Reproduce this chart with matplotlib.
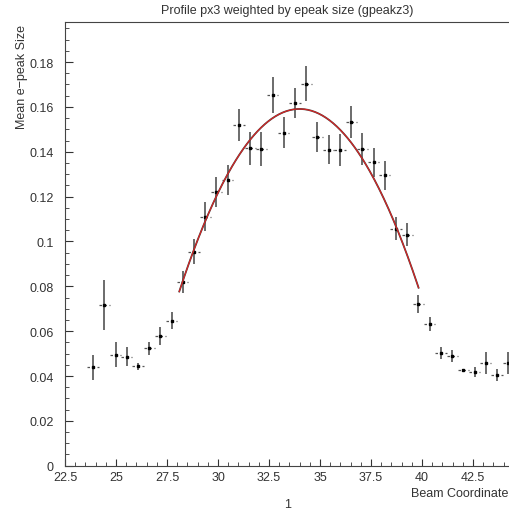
import numpy as np
import matplotlib.pyplot as plt
from matplotlib.ticker import MultipleLocator, FuncFormatter

# profile bins (40 bins from 22.5 to 44.5, first two empty)
bin_width = 0.55
x_centers = [23.875, 24.425, 24.975, 25.525, 26.075, 26.625, 27.175, 27.725,
             28.275, 28.825, 29.375, 29.925, 30.475, 31.025, 31.575, 32.125,
             32.675, 33.225, 33.775, 34.325, 34.875, 35.425, 35.975, 36.525,
             37.075, 37.625, 38.175, 38.725, 39.275, 39.825, 40.375, 40.925,
             41.475, 42.025, 42.575, 43.125, 43.675, 44.225]
mean_size = [0.0438, 0.0716, 0.0495, 0.0486, 0.0443, 0.0523, 0.0577, 0.0647,
             0.0818, 0.0955, 0.1111, 0.1222, 0.1274, 0.1519, 0.1415, 0.1412,
             0.1655, 0.1485, 0.1619, 0.1704, 0.1465, 0.1410, 0.1407, 0.1534,
             0.1411, 0.1353, 0.1296, 0.1057, 0.1030, 0.0720, 0.0632, 0.0502,
             0.0489, 0.0425, 0.0419, 0.0458, 0.0404, 0.0458]
size_err = [0.0055, 0.0110, 0.0056, 0.0042, 0.0015, 0.0030, 0.0040, 0.0038,
            0.0050, 0.0054, 0.0063, 0.0067, 0.0067, 0.0072, 0.0072, 0.0075,
            0.0080, 0.0070, 0.0067, 0.0078, 0.0067, 0.0065, 0.0072, 0.0071,
            0.0072, 0.0065, 0.0065, 0.0052, 0.0052, 0.0039, 0.0030, 0.0027,
            0.0028, 0.0006, 0.0022, 0.0047, 0.0028, 0.0048]
fit_lo, fit_hi = 28.1, 39.83

x = np.array(x_centers)
y = np.array(mean_size)
e = np.array(size_err)

# pol2 fit like the original
sel = (x > fit_lo) & (x < fit_hi)
coef = np.polyfit(x[sel], y[sel], 2, w=1.0 / e[sel])
xf = np.linspace(fit_lo, fit_hi, 200)
yf = np.polyval(coef, xf)

plt.rcParams['font.family'] = ['Liberation Sans', 'DejaVu Sans']
fig = plt.figure(figsize=(5.1, 5.1), dpi=100)
ax = fig.add_axes([0.1275, 0.0849, 0.88, 0.8706])

ax.errorbar(x, y, yerr=e, fmt='none', ecolor='#444444', elinewidth=1.1, capsize=0)
ax.hlines(y, x - bin_width / 2, x + bin_width / 2, colors='#555555',
          linewidth=0.9, linestyles=(0, (2, 2)))
ax.plot(x, y, 's', color='black', markersize=1.8)
ax.plot(xf, yf, color='#444444', linewidth=1.3)
ax.plot(xf, yf, color='#dd2222', linewidth=0.8)

ax.set_xlim(22.5, 44.5)
ax.set_ylim(0, 0.198)
ax.xaxis.set_major_locator(MultipleLocator(2.5))
ax.xaxis.set_minor_locator(MultipleLocator(0.5))
ax.yaxis.set_major_locator(MultipleLocator(0.02))
ax.yaxis.set_minor_locator(MultipleLocator(0.005))
fmt = FuncFormatter(lambda v, p: '%g' % round(v, 4))
ax.xaxis.set_major_formatter(fmt)
ax.yaxis.set_major_formatter(fmt)

ax.tick_params(which='both', direction='in', colors='#333333', labelsize=9)
ax.tick_params(axis='x', which='major', length=5, pad=3.5)
ax.tick_params(axis='y', which='major', length=6, pad=8)
ax.tick_params(which='minor', length=3)
ax.tick_params(top=False, right=False)
ax.spines['right'].set_visible(False)
for s in ['left', 'bottom', 'top']:
    ax.spines[s].set_color('#444444')

fig.text(287 / 510, 1 - 11 / 510, 'Profile px3 weighted by epeak size (gpeakz3)',
         ha='center', va='center', fontsize=9, color='#333333')
fig.text(22 / 510, 1 - 25 / 510, 'Mean e\u2212peak Size', rotation=90,
         ha='center', va='top', fontsize=9, color='#333333')
fig.text(411 / 510, 1 - 494 / 510, 'Beam Coordinate', ha='left', va='center',
         fontsize=9, color='#333333')
fig.text(288 / 510, 1 - 505 / 510, '1', ha='center', va='center',
         fontsize=9, color='#333333')

fig.savefig('out.png', dpi=100)
